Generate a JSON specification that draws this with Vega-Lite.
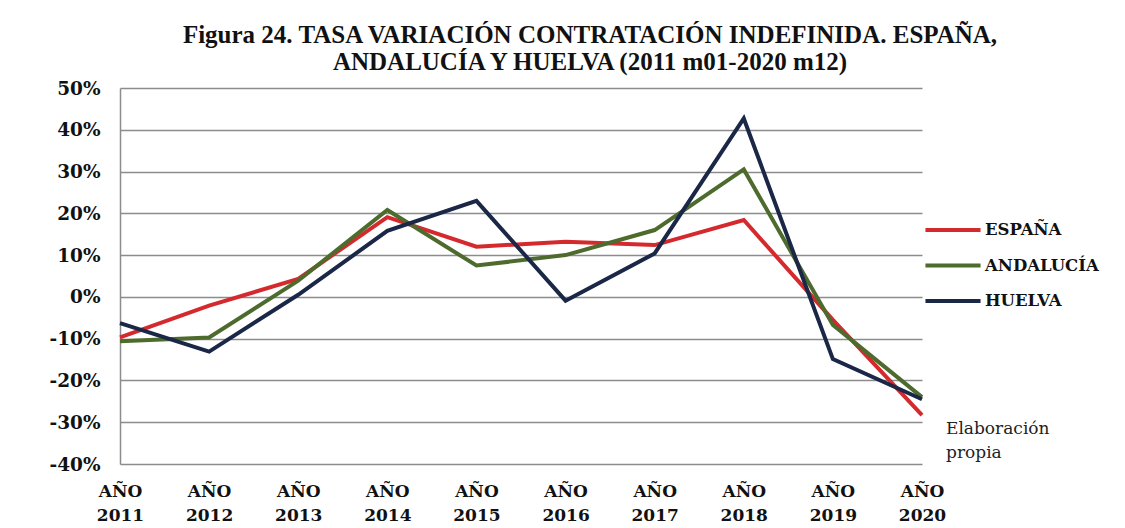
{
  "$schema": "https://vega.github.io/schema/vega-lite/v6.json",
  "autosize": {"type": "none"},
  "width": 802,
  "height": 376,
  "padding": {"left": 120, "top": 88, "right": 203, "bottom": 64},
  "background": "white",
  "title": {
    "text": ["Figura 24. TASA VARIACIÓN CONTRATACIÓN INDEFINIDA. ESPAÑA,", "ANDALUCÍA Y HUELVA (2011 m01-2020 m12)"],
    "anchor": "middle",
    "dx": 69,
    "offset": 4,
    "font": "Liberation Serif",
    "fontSize": 25,
    "fontWeight": "bold",
    "color": "#111111",
    "lineHeight": 27
  },
  "config": {
    "view": {"stroke": null},
    "font": "Liberation Serif"
  },
  "datasets": {
    "series": [
      {"year": "2011", "region": "ESPAÑA", "value": -9.7},
      {"year": "2012", "region": "ESPAÑA", "value": -2.1},
      {"year": "2013", "region": "ESPAÑA", "value": 4.3},
      {"year": "2014", "region": "ESPAÑA", "value": 19.1},
      {"year": "2015", "region": "ESPAÑA", "value": 12.0},
      {"year": "2016", "region": "ESPAÑA", "value": 13.2},
      {"year": "2017", "region": "ESPAÑA", "value": 12.4},
      {"year": "2018", "region": "ESPAÑA", "value": 18.4},
      {"year": "2019", "region": "ESPAÑA", "value": -5.5},
      {"year": "2020", "region": "ESPAÑA", "value": -28.3},
      {"year": "2011", "region": "ANDALUCÍA", "value": -10.6},
      {"year": "2012", "region": "ANDALUCÍA", "value": -9.7},
      {"year": "2013", "region": "ANDALUCÍA", "value": 3.9},
      {"year": "2014", "region": "ANDALUCÍA", "value": 20.8},
      {"year": "2015", "region": "ANDALUCÍA", "value": 7.5},
      {"year": "2016", "region": "ANDALUCÍA", "value": 10.0},
      {"year": "2017", "region": "ANDALUCÍA", "value": 16.0},
      {"year": "2018", "region": "ANDALUCÍA", "value": 30.5},
      {"year": "2019", "region": "ANDALUCÍA", "value": -6.7},
      {"year": "2020", "region": "ANDALUCÍA", "value": -24.0},
      {"year": "2011", "region": "HUELVA", "value": -6.3},
      {"year": "2012", "region": "HUELVA", "value": -13.1},
      {"year": "2013", "region": "HUELVA", "value": 0.5},
      {"year": "2014", "region": "HUELVA", "value": 15.8},
      {"year": "2015", "region": "HUELVA", "value": 23.0},
      {"year": "2016", "region": "HUELVA", "value": -0.9},
      {"year": "2017", "region": "HUELVA", "value": 10.4},
      {"year": "2018", "region": "HUELVA", "value": 42.7},
      {"year": "2019", "region": "HUELVA", "value": -14.9},
      {"year": "2020", "region": "HUELVA", "value": -24.5}
    ],
    "note": [
      {"year": "2020", "value": -30, "text": "Elaboración\npropia"}
    ]
  },
  "layer": [
    {
      "data": {"name": "series"},
      "mark": {"type": "line", "strokeWidth": 4, "strokeJoin": "miter", "clip": false},
      "encoding": {
        "x": {
          "field": "year",
          "type": "ordinal",
          "scale": {"type": "point", "padding": 0},
          "axis": {
            "title": null,
            "labelAngle": 0,
            "labelExpr": "['AÑO', datum.label]",
            "labelFont": "DejaVu Serif",
            "labelFontSize": 17,
            "labelFontWeight": "bold",
            "labelColor": "#111111",
            "labelLineHeight": 24,
            "labelPadding": 19,
            "ticks": false,
            "domain": false,
            "grid": false
          }
        },
        "y": {
          "field": "value",
          "type": "quantitative",
          "scale": {"domain": [-40, 50], "nice": false, "zero": false},
          "axis": {
            "title": null,
            "values": [-40, -30, -20, -10, 0, 10, 20, 30, 40, 50],
            "labelExpr": "datum.value + '%'",
            "labelFont": "DejaVu Serif",
            "labelFontSize": 18.5,
            "labelFontWeight": "bold",
            "labelColor": "#111111",
            "labelPadding": 20,
            "ticks": false,
            "domain": true,
            "domainColor": "#8c8c8c",
            "domainWidth": 1.5,
            "grid": true,
            "gridColor": "#8c8c8c",
            "gridWidth": 1.5
          }
        },
        "color": {
          "field": "region",
          "type": "nominal",
          "sort": ["ESPAÑA", "ANDALUCÍA", "HUELVA"],
          "scale": {"domain": ["ESPAÑA", "ANDALUCÍA", "HUELVA"], "range": ["#D42A2E", "#4E6B2E", "#1A2747"]},
          "legend": {
            "title": null,
            "orient": "none",
            "legendX": 813,
            "legendY": 122,
            "symbolType": "M-1.53,0L1.53,0",
            "symbolSize": 1296,
            "symbolStrokeWidth": 4,
            "rowPadding": 6.5,
            "labelFont": "DejaVu Serif",
            "labelFontSize": 16.5,
            "labelFontWeight": "bold",
            "labelColor": "#111111",
            "labelOffset": 12
          }
        }
      }
    },
    {
      "data": {"name": "note"},
      "mark": {"type": "text", "align": "left", "baseline": "top", "dx": 24, "dy": -1, "fontSize": 17, "font": "DejaVu Serif", "color": "#222222", "lineBreak": "\n", "lineHeight": 24},
      "encoding": {
        "x": {"field": "year", "type": "ordinal"},
        "y": {"field": "value", "type": "quantitative"},
        "text": {"field": "text"}
      }
    }
  ]
}
